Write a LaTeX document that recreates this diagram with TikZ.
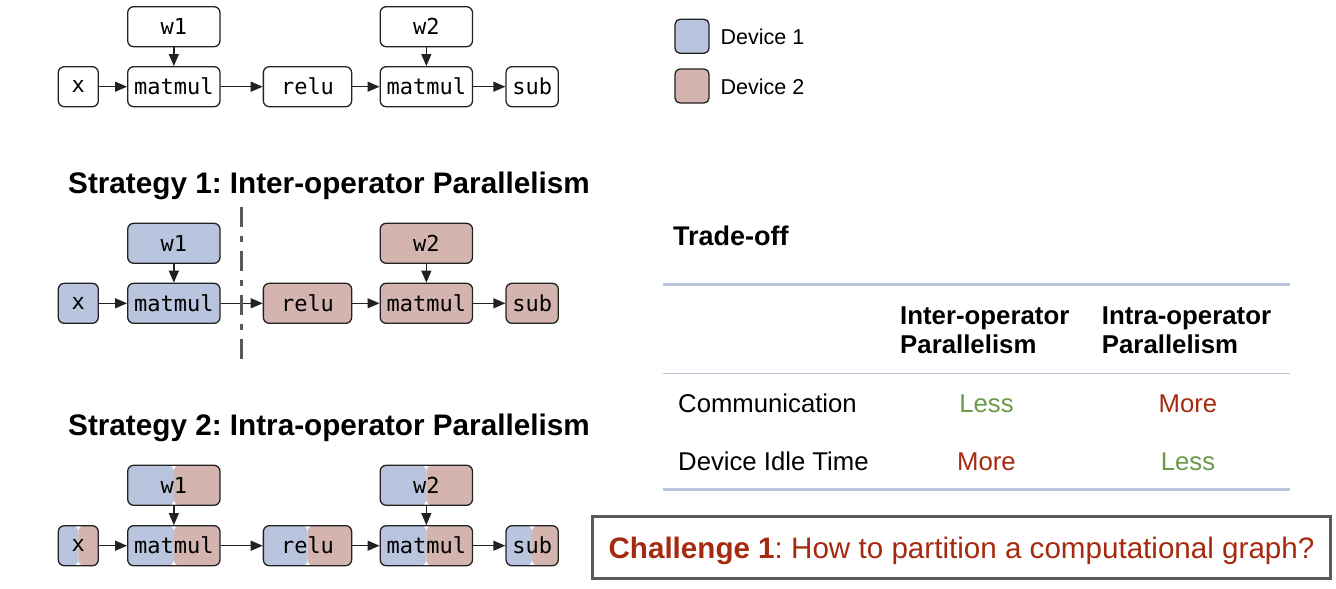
\documentclass[tikz,border=0pt]{standalone}
\usepackage{fontspec}
\setmainfont{Liberation Sans}
\setmonofont{DejaVu Sans Mono}
\usetikzlibrary{arrows.meta}
\definecolor{devA}{HTML}{B9C5DE}
\definecolor{devB}{HTML}{D3B4AE}
\definecolor{lessgreen}{HTML}{6A9A4A}
\definecolor{morered}{HTML}{A52A0F}
\definecolor{rulecol}{HTML}{BAC5DC}
\definecolor{boxgray}{HTML}{5A5A5A}
\definecolor{edgecol}{HTML}{222222}
\frenchspacing
\begin{document}
\begin{tikzpicture}[x=1pt,y=-1pt,
  op/.style={draw=edgecol, line width=1.3pt, rounded corners=6pt, minimum height=40pt, inner sep=0pt, font=\fontsize{22}{24}\selectfont\ttfamily},
  wopbox/.style={op, minimum width=92.3pt},
  xopbox/.style={op, minimum width=40pt},
  ropbox/.style={op, minimum width=88.3pt},
  sopbox/.style={op, minimum width=52.3pt},
  dA/.style={fill=devA},
  dB/.style={fill=devB},
  halfsplit/.style={path picture={
    \fill[devA] (path picture bounding box.south west) rectangle (path picture bounding box.north);
    \fill[devB] (path picture bounding box.north) rectangle (path picture bounding box.south east);}},
  arr/.style={-{Triangle[length=12pt,width=10pt]}, line width=1.3pt, draw=edgecol},
  title/.style={font=\fontsize{29.7}{34}\selectfont\bfseries, anchor=base west, inner sep=0pt},
  legtxt/.style={font=\fontsize{21.5}{25}\selectfont, anchor=base west, inner sep=0pt},
  hdr/.style={font=\fontsize{25.8}{29}\selectfont\bfseries, anchor=base west, inner sep=0pt},
  body/.style={font=\fontsize{25.7}{29}\selectfont, inner sep=0pt},
  legsq/.style={draw=edgecol, line width=1.3pt, rounded corners=5pt, minimum width=34pt, minimum height=34pt, inner sep=0pt},
  cutline/.style={draw=boxgray, line width=3pt, dash pattern=on 20pt off 9pt on 6pt off 9pt},
]
\useasboundingbox (0,0) rectangle (1336,589);

% ---------- original graph ----------
\node[xopbox] (x0) at (78.3,86.7) {x};
\node[wopbox] (m01) at (173.85,86.7) {matmul};
\node[ropbox] (r0) at (307.5,86.7) {relu};
\node[wopbox] (m02) at (426.35,86.7) {matmul};
\node[sopbox] (s0) at (532.15,86.7) {sub};
\node[wopbox] (w01) at (173.85,26.7) {w1};
\node[wopbox] (w02) at (426.35,26.7) {w2};
\draw[arr] (x0) -- (m01);
\draw[arr] (m01) -- (r0);
\draw[arr] (r0) -- (m02);
\draw[arr] (m02) -- (s0);
\draw[arr] (w01) -- (m01);
\draw[arr] (w02) -- (m02);

% ---------- strategy 1 ----------
\node[title] (t1) at (68,193) {Strategy 1: Inter-operator Parallelism};
\node[xopbox,dA] (x1) at (78.3,303.3) {x};
\node[wopbox,dA] (m11) at (173.85,303.3) {matmul};
\node[ropbox,dB] (r1) at (307.5,303.3) {relu};
\node[wopbox,dB] (m12) at (426.35,303.3) {matmul};
\node[sopbox,dB] (s1) at (532.15,303.3) {sub};
\node[wopbox,dA] (w11) at (173.85,243.3) {w1};
\node[wopbox,dB] (w12) at (426.35,243.3) {w2};
\draw[arr] (x1) -- (m11);
\draw[arr] (m11) -- (r1);
\draw[arr] (r1) -- (m12);
\draw[arr] (m12) -- (s1);
\draw[arr] (w11) -- (m11);
\draw[arr] (w12) -- (m12);
\coordinate (cutTop) at (241,206.7);
\coordinate (cutBot) at (241,365);
\draw[cutline] (cutTop) -- (cutBot);

% ---------- strategy 2 ----------
\node[title] (t2) at (68,435) {Strategy 2: Intra-operator Parallelism};
\node[xopbox,halfsplit] (x2) at (78.3,545.7) {x};
\node[wopbox,halfsplit] (m21) at (173.85,545.7) {matmul};
\node[ropbox,halfsplit] (r2) at (307.5,545.7) {relu};
\node[wopbox,halfsplit] (m22) at (426.35,545.7) {matmul};
\node[sopbox,halfsplit] (s2) at (532.15,545.7) {sub};
\node[wopbox,halfsplit] (w21) at (173.85,485.3) {w1};
\node[wopbox,halfsplit] (w22) at (426.35,485.3) {w2};
\draw[arr] (x2) -- (m21);
\draw[arr] (m21) -- (r2);
\draw[arr] (r2) -- (m22);
\draw[arr] (m22) -- (s2);
\draw[arr] (w21) -- (m21);
\draw[arr] (w22) -- (m22);

% ---------- legend ----------
\node[legsq,dA] (lg1) at (692,36.3) {};
\node[legsq,dB] (lg2) at (692,86) {};
\node[legtxt] (lt1) at (720.5,44.3) {Device 1};
\node[legtxt] (lt2) at (720.5,94.3) {Device 2};

% ---------- trade-off table ----------
\node[font=\fontsize{27}{31}\selectfont\bfseries, anchor=base west, inner sep=0pt] (trade) at (673,245) {Trade-off};
\coordinate (tl1) at (663,284.3); \coordinate (tr1) at (1290,284.3);
\coordinate (tl2) at (663,373.3); \coordinate (tr2) at (1290,373.3);
\coordinate (tl3) at (663,489.3); \coordinate (tr3) at (1290,489.3);
\draw[rulecol, line width=2.7pt] (tl1) -- (tr1);
\draw[rulecol, line width=1.5pt] (tl2) -- (tr2);
\draw[rulecol, line width=2.7pt] (tl3) -- (tr3);
\node[hdr] (h1a) at (900,324) {Inter-operator};
\node[hdr] (h1b) at (900,353) {Parallelism};
\node[hdr] (h2a) at (1101.7,324) {Intra-operator};
\node[hdr] (h2b) at (1101.7,353) {Parallelism};
\node[body, anchor=base west] (rc) at (678,412.7) {Communication};
\node[body, anchor=base west] (rd) at (678,470) {Device Idle Time};
\node[body, anchor=base, text=lessgreen] (c11) at (986.5,412.7) {Less};
\node[body, anchor=base, text=morered] (c12) at (1188,412.7) {More};
\node[body, anchor=base, text=morered] (c21) at (986.5,470) {More};
\node[body, anchor=base, text=lessgreen] (c22) at (1188,470) {Less};

% ---------- challenge ----------
\node[draw=boxgray, line width=2.5pt, minimum width=738.4pt, minimum height=61.6pt, inner sep=0pt,
      text height=21.5pt, text depth=0pt, text=morered, font=\fontsize{29.6}{34}\selectfont] (chal) at (961.5,547.5)
      {\textbf{Challenge 1}: How to partition a computational graph?};
\end{tikzpicture}
\end{document}
